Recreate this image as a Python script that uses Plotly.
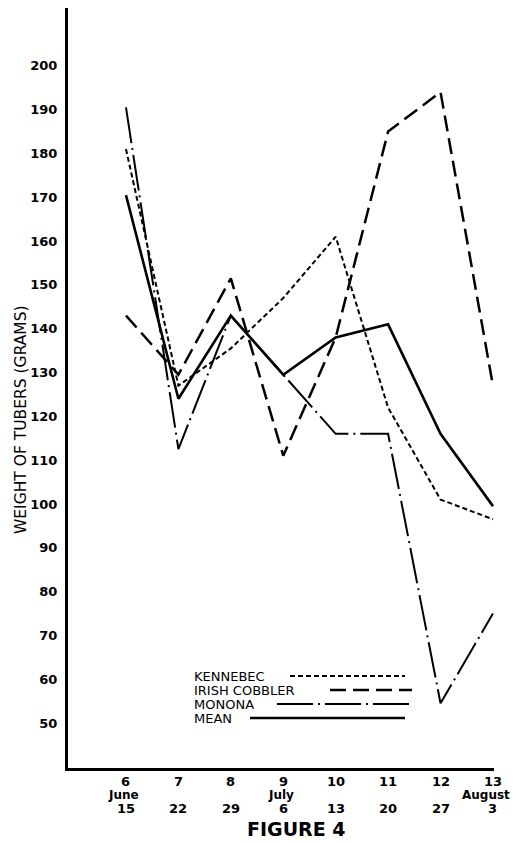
import plotly.graph_objects as go

weeks = [6, 7, 8, 9, 10, 11, 12, 13]
dates = ["15", "22", "29", "6", "13", "20", "27", "3"]
months = {6: "June", 9: "July", 13: "August"}

kennebec = [181, 127, 135.5, 147, 161, 122, 101, 96.5]
irish_cobbler = [143, 129.5, 151.5, 111, 138, 185, 194, 127]
monona = [190.5, 112.5, 143, 129.5, 116, 116, 54.5, 75]
mean = [170.5, 124, 143, 129.5, 138, 141, 116, 99.5]

y_ticks = list(range(50, 201, 10))

series = [
    ("KENNEBEC", kennebec, dict(color="black", width=2, dash="5px,3px")),
    ("IRISH COBBLER", irish_cobbler, dict(color="black", width=2.5, dash="16px,7px")),
    ("MONONA", monona, dict(color="black", width=2, dash="36px,5px,2px,5px")),
    ("MEAN", mean, dict(color="black", width=2.6)),
]

fig = go.Figure()
for name, vals, line in series:
    fig.add_trace(go.Scatter(x=weeks, y=vals, mode="lines", name=name, line=line,
                             cliponaxis=False, showlegend=False))

W, H = 528, 843
ml, mr, mt, mb = 68, 34, 8, 75
pw = W - ml - mr
ph = H - mt - mb


def px(xp):
    return (xp - ml) / pw


def py(yp):
    return (H - mb - yp) / ph


FONT = "DejaVu Sans"
tick_font = dict(family=FONT, size=13, color="black", weight="bold")

fig.update_layout(
    width=W, height=H,
    margin=dict(l=ml, r=mr, t=mt, b=mb),
    paper_bgcolor="white", plot_bgcolor="white",
    xaxis=dict(range=[4.894, 13.02], showgrid=False, zeroline=False, showline=True,
               linecolor="black", linewidth=3, showticklabels=False, ticks=""),
    yaxis=dict(range=[39.73, 213.2], showgrid=False, zeroline=False, showline=True,
               linecolor="black", linewidth=3, tickvals=y_ticks,
               ticktext=[str(v) for v in y_ticks], tickfont=tick_font, ticks="",
               ticklabelstandoff=5),
)

ann = []
# y-axis title
ann.append(dict(text="WEIGHT OF TUBERS (GRAMS)", xref="paper", yref="paper",
                x=px(21), y=py(420), textangle=-90, showarrow=False,
                xanchor="center", yanchor="middle",
                font=dict(family=FONT, size=15.5, color="black")))
# x labels
for w, d in zip(weeks, dates):
    ann.append(dict(text=str(w), xref="x", yref="paper", x=w, y=0, yshift=-13,
                    showarrow=False, font=tick_font, yanchor="middle"))
    ann.append(dict(text=d, xref="x", yref="paper", x=w, y=0, yshift=-40,
                    showarrow=False, font=tick_font, yanchor="middle"))
for w, m in months.items():
    ann.append(dict(text=m, xref="x", yref="paper", x=w, y=0, yshift=-27,
                    xshift=-7 if w == 13 else -2, showarrow=False,
                    font=dict(family=FONT, size=12, color="black", weight="bold"),
                    yanchor="middle"))
ann.append(dict(text="FIGURE 4", xref="paper", yref="paper", x=px(296), y=py(829),
                showarrow=False, font=dict(family=FONT, size=19, color="black", weight="bold"),
                yanchor="middle"))

# custom legend: label then line sample
legend_rows = [(676, 290, 405), (690, 330, 412), (704, 277, 411), (718, 250, 405)]
shapes = []
for (name, vals, line), (yy, x0, x1) in zip(series, legend_rows):
    ann.append(dict(text=name, xref="paper", yref="paper", x=px(192), y=py(yy),
                    xanchor="left", yanchor="middle", showarrow=False,
                    font=dict(family=FONT, size=13, color="black")))
    shapes.append(dict(type="line", xref="paper", yref="paper", x0=px(x0), x1=px(x1),
                       y0=py(yy), y1=py(yy), line=line))

fig.update_layout(annotations=ann, shapes=shapes)
fig.write_html("out.html", config={"displayModeBar": False},
               post_script="document.body.style.margin='0';")
